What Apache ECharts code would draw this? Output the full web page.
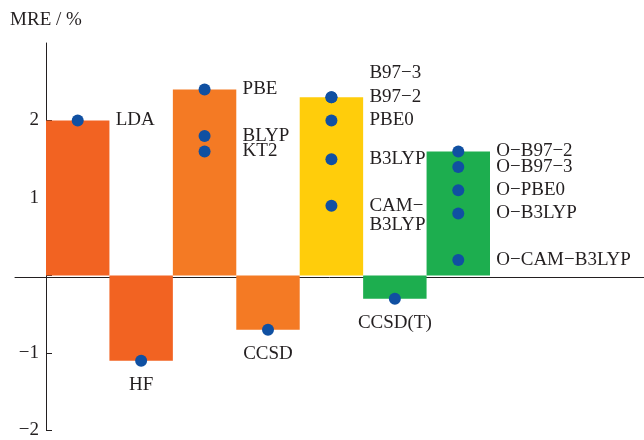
<!DOCTYPE html>
<html>
<head>
<meta charset="utf-8">
<script src="https://cdn.jsdelivr.net/npm/echarts@6/dist/echarts.min.js"></script>
<style>
  html, body { margin: 0; padding: 0; background: #fff; }
  #chart { width: 644px; height: 440px; }
</style>
</head>
<body>
<div id="chart"></div>
<script>
// Mean relative error per method family (bars) and per individual method (dots)
const groups = ['LDA', 'HF', 'GGA', 'CCSD', 'Hybrid', 'CCSD(T)', 'Optimized'];
const groupMRE = [2.0, -1.1, 2.4, -0.7, 2.3, -0.3, 1.6];

const methodNames = ['LDA', 'HF', 'PBE', 'BLYP', 'KT2', 'CCSD',
  'B97−3', 'B97−2', 'PBE0', 'B3LYP', 'CAM−\nB3LYP', 'CCSD(T)',
  'O−B97−2', 'O−B97−3', 'O−PBE0', 'O−B3LYP', 'O−CAM−B3LYP'];
const methodGroup = [0, 1, 2, 2, 2, 3, 4, 4, 4, 4, 4, 5, 6, 6, 6, 6, 6];
const methodMRE = [2.0, -1.1, 2.4, 1.8, 1.6, -0.7,
  2.3, 2.3, 2.0, 1.5, 0.9, -0.3,
  1.6, 1.4, 1.1, 0.8, 0.2];

const yTicks = [-2, -1, 0, 1, 2];
const yLabels = [-2, -1, 1, 2];

// styling
const barColors = ['#F26322', '#F26322', '#F47A24', '#F47A24', '#FFCD0B', '#1DAE4F', '#1DAE4F'];
const dotColor = '#1050A2';
const ink = '#231F20';
const serif = 'Liberation Serif';
const fontSize = 19;

function labelFor(i) {
  const name = methodNames[i];
  const below = (name === 'HF' || name === 'CCSD' || name === 'CCSD(T)');
  if (below) return { position: 'bottom', distance: 9 };
  let offset = [0, 0];
  if (name === 'B97−3') offset = [0, -24];
  if (name.indexOf('\n') >= 0) offset = [0, 10];
  return { position: 'right', distance: 32, offset: offset };
}

const minus = v => (v < 0 ? '−' + Math.abs(v) : String(v));

const chart = echarts.init(document.getElementById('chart'));
chart.setOption({
  animation: false,
  grid: [
    { left: 46, right: 154, top: 43, bottom: 7 },
    { left: 15, right: 0, top: 43, bottom: 7 }
  ],
  xAxis: [
    {
      type: 'category', gridIndex: 0, data: groups,
      axisLine: { show: false }, axisTick: { show: false }, axisLabel: { show: false }
    },
    {
      type: 'value', gridIndex: 1, min: 0, max: 1,
      axisLine: { show: true, onZero: true, lineStyle: { color: ink, width: 1 } },
      axisTick: { show: false }, axisLabel: { show: false }, splitLine: { show: false }
    }
  ],
  yAxis: [
    {
      type: 'value', gridIndex: 0, min: -2, max: 3, interval: 1,
      name: 'MRE / %', nameLocation: 'end', nameGap: 13,
      nameTextStyle: { fontFamily: serif, fontSize: fontSize, color: ink },
      axisLine: { show: true, onZero: false, lineStyle: { color: ink, width: 1 } },
      axisTick: { show: true, inside: true, length: 6, customValues: yTicks, lineStyle: { color: ink } },
      axisLabel: {
        customValues: yLabels, margin: 7, formatter: minus,
        fontFamily: serif, fontSize: fontSize, color: ink
      },
      splitLine: { show: false }
    },
    {
      type: 'value', gridIndex: 1, min: -2, max: 3,
      axisLine: { show: false }, axisTick: { show: false },
      axisLabel: { show: false }, splitLine: { show: false }
    }
  ],
  series: [
    {
      type: 'bar', xAxisIndex: 0, yAxisIndex: 0,
      barWidth: '100%', barCategoryGap: 0,
      data: groupMRE.map((v, i) => ({ value: v, itemStyle: { color: barColors[i] } })),
      z: 2
    },
    {
      type: 'scatter', xAxisIndex: 0, yAxisIndex: 0,
      symbolSize: 12,
      itemStyle: { color: dotColor, opacity: 1 },
      data: methodMRE.map((v, i) => ({
        value: [methodGroup[i], v],
        name: methodNames[i],
        label: labelFor(i)
      })),
      label: {
        show: true, formatter: p => p.name,
        fontFamily: serif, fontSize: fontSize, color: ink, lineHeight: 19
      },
      z: 5
    }
  ]
});
</script>
</body>
</html>
